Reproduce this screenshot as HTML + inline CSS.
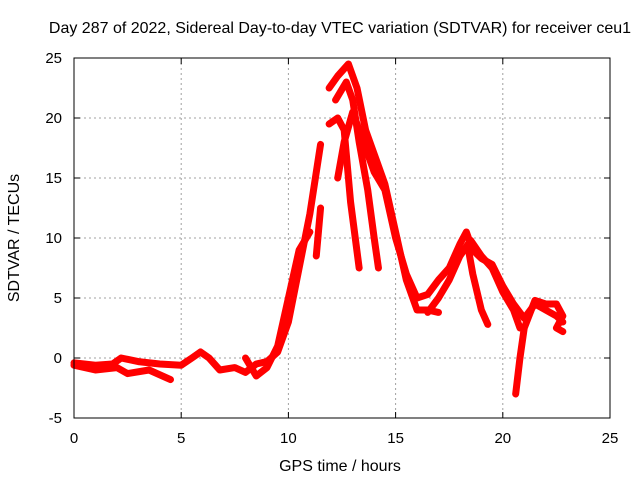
<!DOCTYPE html>
<html><head><meta charset="utf-8"><style>
body{margin:0;background:#fff}
text{font-family:"Liberation Sans",sans-serif;font-size:15px;fill:#000}
.big{font-size:16px}
</style></head><body>
<svg id="c" width="640" height="480">
<rect width="640" height="480" fill="#fff"/>
<g id="grid"></g>
<g id="series"></g>
<rect x="74" y="58" width="536" height="360" fill="none" stroke="#000" stroke-width="1"/>
<g id="ticks"></g>
<text class="big" x="340" y="33" text-anchor="middle">Day 287 of 2022, Sidereal Day-to-day VTEC variation (SDTVAR) for receiver ceu1</text>
<text class="big" x="340" y="471" text-anchor="middle">GPS time / hours</text>
<text class="big" transform="translate(19,238) rotate(-90)" text-anchor="middle">SDTVAR / TECUs</text>
</svg>
<script>
const xTicks=[0,5,10,15,20,25];
const yTicks=[-5,0,5,10,15,20,25];
const s1=[[0,-0.6],[1,-1],[2,-0.8],[2.5,-1.3],[3.5,-1],[4.5,-1.8]];
const s2=[[0,-0.4],[1,-0.6],[1.8,-0.5],[2.2,0],[3,-0.3],[4,-0.5],[5,-0.6],[5.5,0],[5.9,0.5],[6.3,0],[6.8,-1],[7.5,-0.8],[8,-1.2],[8.5,-0.5],[9,-0.3],[9.5,0.5],[10,3],[10.5,7.5],[11,12],[11.5,17.8]];
const s3=[[8,0],[8.5,-1.5],[9,-0.8],[9.5,1],[10,5],[10.5,9],[11,10.5]];
const s4=[[11.3,8.5],[11.5,12.5]];
const s5=[[11.9,22.5],[12.3,23.5],[12.8,24.5],[13.2,22.5],[13.6,19],[14,17],[14.5,14.5],[15,10.5],[15.5,6.5],[16,4],[16.5,4],[17,3.8]];
const s6=[[11.9,19.5],[12.3,20],[12.6,19],[12.9,13],[13.3,7.5]];
const s7=[[12.2,21.5],[12.7,23],[13,21.5],[13.3,18],[13.7,14],[14,10],[14.2,7.5]];
const s8=[[12.3,15],[12.6,18],[13,20.5],[13.5,18],[14,15.5],[14.5,14],[15,10],[15.5,7],[16,5],[16.5,5.3],[17,6.5],[17.5,7.5],[18,9.5],[18.3,10.5],[18.6,9],[19,8.3],[19.5,7.8],[20,6],[20.5,4.5],[21,3.3],[21.5,4.5],[22,4],[22.5,3.5],[22.8,3]];
const s9=[[16.5,3.8],[17,5],[17.5,6.5],[18,8.5],[18.5,9.8],[19,8.5],[19.5,7.5],[20,5.5],[20.5,4],[20.8,2.5]];
const s10=[[18.4,9],[18.6,7],[19,4],[19.3,2.8]];
const s11=[[20.6,-3],[20.8,0],[21,2.5],[21.5,4.8],[22,4.5],[22.5,4.5],[22.8,3.5],[22.5,2.5],[22.8,2.2]];
const allSeries=[s1,s2,s3,s4,s5,s6,s7,s8,s9,s10,s11];
const X=v=>74+v*536/25, Y=v=>418-(v+5)*12;
const NS='http://www.w3.org/2000/svg';
const grid=document.getElementById('grid'),tk=document.getElementById('ticks'),sg=document.getElementById('series');
function mk(t,a,p){const e=document.createElementNS(NS,t);for(const k in a)e.setAttribute(k,a[k]);p.appendChild(e);return e;}
xTicks.forEach(v=>{
 if(v>0&&v<25){const g=mk('line',{x1:X(v),x2:X(v),y1:58,y2:418,stroke:'#a0a0a0','stroke-dasharray':'2,3'},grid);
 
 }
 mk('line',{x1:X(v),x2:X(v),y1:418,y2:412,stroke:'#000'},tk);
 mk('line',{x1:X(v),x2:X(v),y1:58,y2:64,stroke:'#000'},tk);
 const t=mk('text',{x:X(v),y:443,'text-anchor':'middle'},tk);t.textContent=v;
 
 
});
yTicks.forEach(v=>{
 if(v>-5&&v<25){const g=mk('line',{x1:74,x2:610,y1:Y(v),y2:Y(v),stroke:'#a0a0a0','stroke-dasharray':'2,3'},grid);
 
 }
 mk('line',{x1:74,x2:80,y1:Y(v),y2:Y(v),stroke:'#000'},tk);
 mk('line',{x1:610,x2:604,y1:Y(v),y2:Y(v),stroke:'#000'},tk);
 const t=mk('text',{x:62,y:Y(v)+5,'text-anchor':'end'},tk);t.textContent=v;
 
 
});
allSeries.forEach((s,i)=>{
 const p=mk('polyline',{points:s.map(d=>X(d[0])+','+Y(d[1])).join(' '),fill:'none',stroke:'#ff0000','stroke-width':7,'stroke-linejoin':'round','stroke-linecap':'round'},sg);
 
 
});
</script>
</body></html>
